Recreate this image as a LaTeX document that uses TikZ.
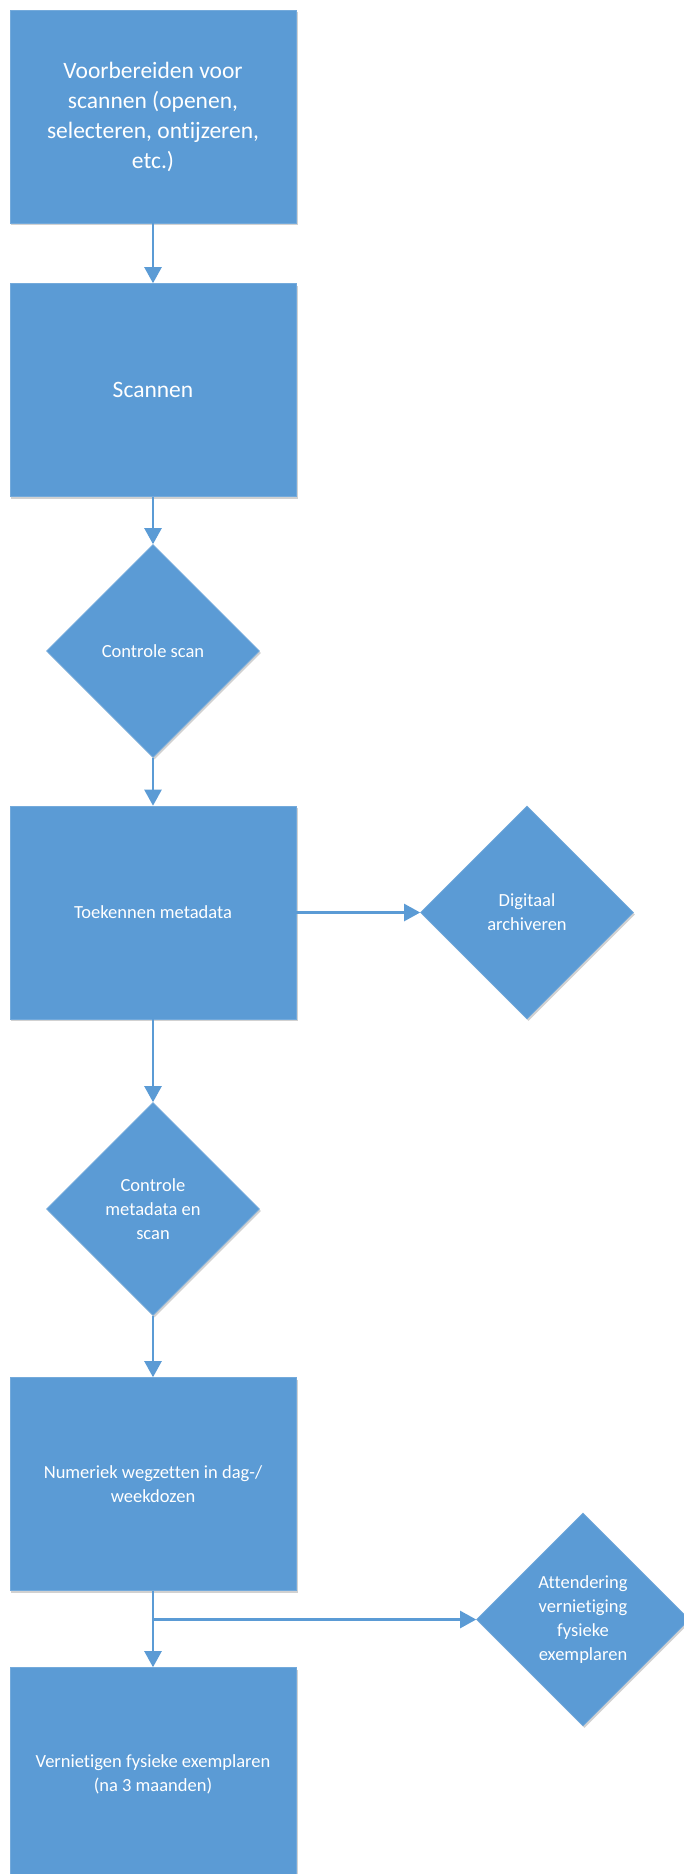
\documentclass[tikz,border=0pt]{standalone}
\usepackage{fontspec}
\setmainfont{Carlito}[Ligatures={NoCommon}]
\usetikzlibrary{shapes.geometric, arrows.meta, shadows}

\definecolor{flowblue}{RGB}{91,155,213}

\tikzset{
  procbox/.style={rectangle, fill=flowblue, draw=flowblue!85!white, line width=0.6bp,
    minimum width=286bp, minimum height=213bp, inner sep=0pt, align=center,
    text=white, font=\fontsize{18.5bp}{24bp}\selectfont,
    drop shadow={shadow xshift=1.5bp, shadow yshift=-2bp, opacity=0.18, fill=black}},
  bigtext/.style={font=\fontsize{23.5bp}{30bp}\selectfont},
  decision/.style={diamond, fill=flowblue, draw=flowblue!85!white, line width=0.6bp,
    minimum width=213bp, minimum height=213bp, inner sep=0pt, align=center,
    text=white, font=\fontsize{18.5bp}{24bp}\selectfont,
    drop shadow={shadow xshift=1.5bp, shadow yshift=-2bp, opacity=0.18, fill=black}},
  flow/.style={draw=flowblue, line width=2.3bp},
  flowarrow/.style={flow, -{Triangle[width=17bp, length=16bp]}}
}

\begin{document}
\begin{tikzpicture}[x=1bp, y=-1bp]
  % page frame
  \useasboundingbox (0,0) rectangle (684,1874);

  % ---- Main column ----
  \node[procbox, bigtext] (prep) at (153,116.5)
    {Voorbereiden voor\\scannen (openen,\\selecteren, ontijzeren,\\etc.)};
  \node[procbox, bigtext] (scan) at (153,390) {Scannen};
  \node[decision] (checkscan) at (153,651) {Controle scan};
  \node[procbox] (meta) at (153,912.5) {Toekennen metadata};
  \node[decision] (checkmeta) at (153,1209) {Controle\\metadata en\\scan};
  \node[procbox] (store) at (153,1484) {Numeriek wegzetten in dag-/\\weekdozen};
  \node[procbox] (destroy) at (153,1774) {Vernietigen fysieke exemplaren\\(na 3 maanden)};

  % ---- Side steps ----
  \node[decision] (archive) at (527,912.5) {Digitaal\\archiveren};
  \node[decision] (notice) at (583,1619.5) {Attendering\\vernietiging\\fysieke\\exemplaren};

  % Connectors
  \draw[flowarrow] (prep) -- (scan);
  \draw[flowarrow] (scan) -- (checkscan);
  \draw[flowarrow] (checkscan) -- (meta);
  \draw[flowarrow] (meta) -- (archive);
  \draw[flowarrow] (meta) -- (checkmeta);
  \draw[flowarrow] (checkmeta) -- (store);
  % split below the boxes
  \coordinate (split) at (153,1619.5);
  \draw[flow] (store.south) -- (split);
  \draw[flowarrow] (split) -- (destroy.north);
  \draw[flowarrow] (split) -- (notice.west);
\end{tikzpicture}
\end{document}
